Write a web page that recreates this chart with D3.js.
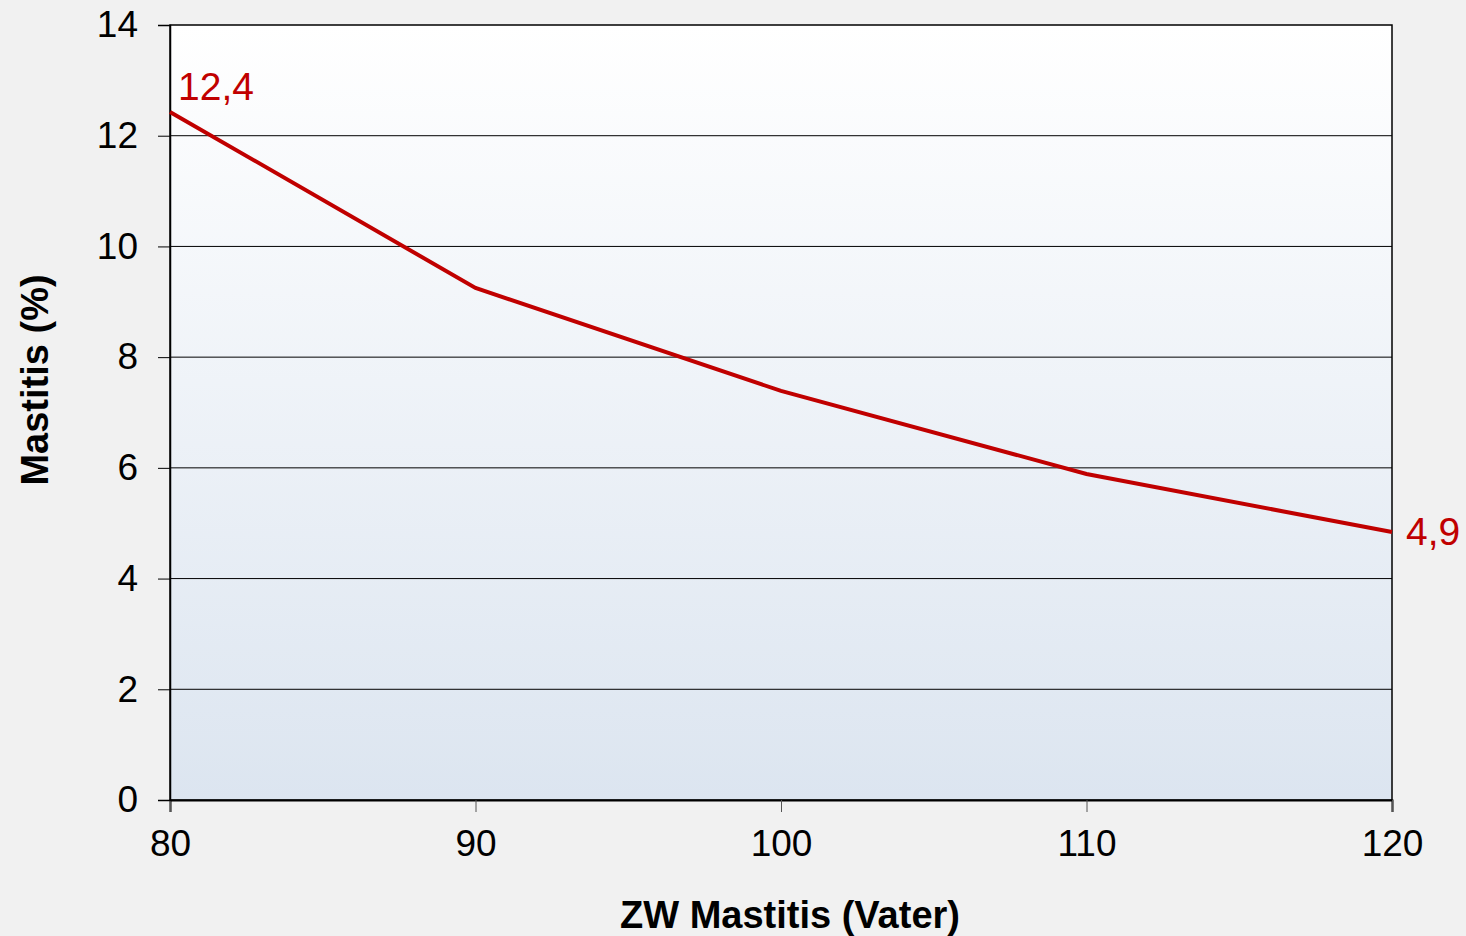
<!DOCTYPE html>
<html>
<head>
<meta charset="utf-8">
<script src="https://cdn.jsdelivr.net/npm/d3@7"></script>
<style>
  body { margin: 0; background: #f1f1f1; }
  svg { display: block; font-family: "Liberation Sans", Arial, sans-serif; }
</style>
</head>
<body>
<svg width="1466" height="936"></svg>
<script>
// data
let xValues = [80, 90, 100, 110, 120]
let mastitis = [12.43, 9.25, 7.39, 5.89, 4.84]
let yTicks = [0, 2, 4, 6, 8, 10, 12, 14]
let endLabels = ['12,4', '4,9']

let svg = d3.select('svg'),
    margin = {top: 25, bottom: 136, left: 170, right: 74},
    width = +svg.attr('width') - margin.left - margin.right,
    height = +svg.attr('height') - margin.top - margin.bottom

let xScale = d3.scaleLinear().domain([80, 120]).range([margin.left, margin.left + width]),
    yScale = d3.scaleLinear().domain([0, 14]).range([margin.top + height, margin.top])

// background gradient of the plot area
let defs = svg.append('defs')
let grad = defs.append('linearGradient')
    .attr('id', 'plotBg')
    .attr('x1', 0).attr('y1', 0).attr('x2', 0).attr('y2', 1)
grad.append('stop').attr('offset', '0%').attr('stop-color', '#ffffff')
grad.append('stop').attr('offset', '100%').attr('stop-color', '#dce5f0')

svg.append('rect')
    .attr('x', margin.left)
    .attr('y', margin.top)
    .attr('width', width)
    .attr('height', height)
    .attr('fill', 'url(#plotBg)')

// gridlines
svg.append('g')
    .selectAll('line')
    .data(yTicks.filter(d => d > 0 && d < 14))
    .enter()
    .append('line')
    .attr('x1', margin.left)
    .attr('x2', margin.left + width)
    .attr('y1', d => yScale(d))
    .attr('y2', d => yScale(d))
    .attr('stroke', '#000')
    .attr('stroke-width', 1)

// border
svg.append('rect')
    .attr('x', margin.left)
    .attr('y', margin.top)
    .attr('width', width)
    .attr('height', height)
    .attr('fill', 'none')
    .attr('stroke', '#000')
    .attr('stroke-width', 1.5)

// x axis
let xAxis = svg.append('g')
    .attr('transform', 'translate(0,' + (margin.top + height) + ')')
    .call(d3.axisBottom(xScale).tickValues(xValues).tickSize(12).tickPadding(18).tickFormat(d3.format('d')))
xAxis.select('.domain').attr('stroke-width', 2)
xAxis.selectAll('.tick line').attr('stroke', '#555')
xAxis.selectAll('text').attr('font-size', 37).attr('fill', '#000').attr('font-family', '"Liberation Sans", Arial, sans-serif')

// y axis
let yAxis = svg.append('g')
    .attr('transform', 'translate(' + margin.left + ',0)')
    .call(d3.axisLeft(yScale).tickValues(yTicks).tickSize(12).tickPadding(20))
yAxis.select('.domain').attr('stroke-width', 1.5)
yAxis.selectAll('text').attr('font-size', 37).attr('fill', '#000').attr('font-family', '"Liberation Sans", Arial, sans-serif')

// axis titles
svg.append('text')
    .attr('text-anchor', 'middle')
    .attr('x', 790)
    .attr('y', 928)
    .attr('font-size', 38)
    .attr('font-weight', 'bold')
    .text('ZW Mastitis (Vater)')

svg.append('text')
    .attr('text-anchor', 'middle')
    .attr('transform', 'translate(48,380) rotate(-90)')
    .attr('font-size', 38)
    .attr('font-weight', 'bold')
    .text('Mastitis (%)')

// line
let line = d3.line()
    .x((d, i) => xScale(xValues[i]))
    .y(d => yScale(d))
svg.append('path')
    .datum(mastitis)
    .attr('d', line)
    .attr('fill', 'none')
    .attr('stroke', '#c00000')
    .attr('stroke-width', 4)

// end labels
let last = mastitis.length - 1
svg.append('text')
    .attr('x', xScale(xValues[0]) + 8)
    .attr('y', yScale(mastitis[0]) - 12)
    .attr('font-size', 39)
    .attr('fill', '#c00000')
    .text(endLabels[0])
svg.append('text')
    .attr('x', xScale(xValues[last]) + 14)
    .attr('y', yScale(mastitis[last]) + 13)
    .attr('font-size', 39)
    .attr('fill', '#c00000')
    .text(endLabels[1])
</script>
</body>
</html>
